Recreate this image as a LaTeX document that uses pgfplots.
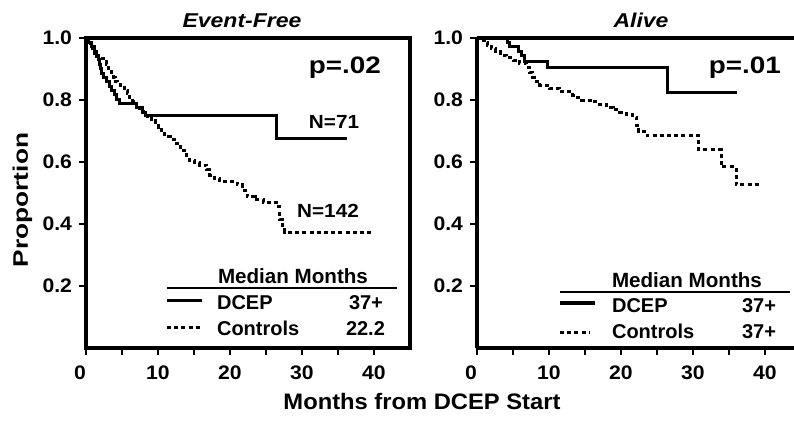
\documentclass[border=0pt]{standalone}
\usepackage{pgfplots}
\pgfplotsset{compat=1.18}
\usepackage{fontspec}
\setmainfont{Liberation Sans}
\newfontfamily\tickf{Liberation Sans}[FakeStretch=1.08]
\newfontfamily\titlef{Liberation Sans}[FakeStretch=1.15]
\newfontfamily\pf{Liberation Sans}[FakeStretch=1.17]
\newfontfamily\xlf{Liberation Sans}[FakeStretch=1.06]
\newfontfamily\ylf{Liberation Sans}[FakeStretch=1.25]
\newfontfamily\nf{Liberation Sans}[FakeStretch=1.09]

\pgfplotsset{
 kmaxis/.style={
  scale only axis,height=155pt,
  ymin=0,ymax=1,xmin=0,
  axis line style={line width=1.8pt},
  ytick={0.2,0.4,0.6,0.8,1.0},yticklabels={0.2,0.4,0.6,0.8,1.0},
  xtick={0,10,20,30,40},xticklabels={\kern-3pt0\kern3pt,10,20,30,40},
  minor xtick={5,15,25,35},
  tick align=outside,xtick pos=left,ytick pos=left,
  major tick length=3.5pt,minor tick length=3.5pt,
  every tick/.append style={black,line width=1.3pt},
  ticklabel style={font=\tickf\bfseries\fontsize{9.8}{11}\selectfont},
  xticklabel style={inner sep=0.5pt,yshift=-4.8pt},
  /pgf/number format/assume math mode=true,
  clip=false,
 },
 dcep/.style={const plot,black,line width=1.5pt,line join=miter},
 ctrl/.style={const plot,black,line width=1.5pt,dash pattern=on 2pt off 1.6pt},
}
\newcommand\rowf{\bfseries\fontsize{10}{12}\selectfont}

\begin{document}
\begin{tikzpicture}
\useasboundingbox (0,0) rectangle (397pt,210pt);

% Event-Free
\begin{axis}[kmaxis,at={(43pt,36pt)},anchor=south west,width=162pt,xmax=45]
\addplot[dcep] coordinates {
 (0,1) (0.4,0.986) (0.8,0.972) (1.2,0.958) (1.5,0.944) (1.8,0.930)
 (1.9,0.915) (2.0,0.901) (2.1,0.887) (2.5,0.873) (2.9,0.859) (3.3,0.845)
 (3.6,0.831) (3.9,0.817) (4.2,0.803) (4.6,0.789) (7.0,0.775) (7.8,0.761)
 (8.3,0.750) (26.5,0.677) (36.2,0.677)};
\addplot[ctrl] coordinates {
 (0,1) (0.3,0.986) (0.6,0.972) (0.9,0.958) (1.2,0.951) (1.5,0.940)
 (2.0,0.933) (2.5,0.923) (2.8,0.916) (3.1,0.902) (3.5,0.888) (3.8,0.874)
 (4.1,0.860) (4.4,0.850) (4.8,0.840) (5.3,0.830) (5.7,0.820) (6.1,0.808)
 (6.5,0.796) (7.0,0.783) (7.5,0.772) (8.0,0.760) (8.5,0.748) (9.1,0.738)
 (9.7,0.728) (10.1,0.712) (10.5,0.696) (10.9,0.681) (11.7,0.672) (12.6,0.660)
 (13.1,0.648) (13.6,0.636) (14.0,0.620) (14.4,0.606) (15.1,0.598) (15.8,0.590)
 (16.8,0.575) (17.2,0.558) (17.9,0.547) (18.6,0.536) (21.0,0.526) (21.7,0.507)
 (22.4,0.488) (23.5,0.478) (24.6,0.468) (26.5,0.455) (26.9,0.414) (27.3,0.394)
 (27.6,0.374) (39.9,0.374)};
\end{axis}

% Alive
\begin{axis}[kmaxis,at={(238.5pt,36pt)},anchor=south west,width=158.4pt,xmax=44,
 axis x line*=box,axis y line*=left]
\addplot[dcep] coordinates {
 (0,1) (4.3,0.986) (4.5,0.972) (5.7,0.958) (6.2,0.944) (6.6,0.925)
 (9.8,0.905) (26.4,0.823) (36.1,0.823)};
\addplot[ctrl] coordinates {
 (0,1) (0.5,0.993) (1.0,0.986) (1.4,0.977) (2.0,0.965) (2.6,0.955)
 (3.2,0.945) (4.1,0.937) (5.0,0.929) (5.9,0.918) (6.9,0.906) (7.3,0.890)
 (7.7,0.874) (8.2,0.861) (8.7,0.848) (10.1,0.838) (11.5,0.826) (13.3,0.816)
 (14.0,0.808) (14.5,0.800) (16.0,0.794) (17.0,0.786) (18.0,0.777) (18.9,0.769)
 (19.8,0.761) (20.7,0.753) (21.6,0.745) (22.1,0.719) (22.5,0.697) (23.7,0.684)
 (30.8,0.639) (33.9,0.584) (36.0,0.526) (39.4,0.526)};
\end{axis}

% titles and labels
\node[anchor=base,font=\titlef\bfseries\itshape\fontsize{10}{12}\selectfont] at (121pt,196.5pt) {Event-Free};
\node[anchor=base,font=\titlef\bfseries\itshape\fontsize{10}{12}\selectfont] at (320.5pt,196.5pt) {Alive};
\node[anchor=base,inner sep=0pt,font=\xlf\bfseries\fontsize{11.2}{13}\selectfont] at (211pt,5.5pt) {Months from DCEP Start};
\node[anchor=base,rotate=90,font=\ylf\bfseries\fontsize{10.5}{12}\selectfont] at (14pt,110pt) {Proportion};

\node[anchor=base east,font=\pf\bfseries\fontsize{11.9}{13}\selectfont] at (194pt,173.5pt) {p=.02};
\node[anchor=base east,font=\pf\bfseries\fontsize{11.9}{13}\selectfont] at (394pt,173.5pt) {p=.01};
\node[anchor=base,font=\nf\bfseries\fontsize{9.5}{11}\selectfont] at (167pt,146pt) {N=71};
\node[anchor=base,font=\nf\bfseries\fontsize{9.5}{11}\selectfont] at (164pt,101.5pt) {N=142};

% left legend
\node[anchor=base,font=\bfseries\fontsize{10.3}{12}\selectfont] at (146.5pt,68.5pt) {Median Months};
\draw[line width=0.75pt] (83.5pt,66pt) -- (198.5pt,66pt);
\draw[line width=1.5pt] (83.5pt,60pt) -- (101pt,60pt);
\draw[line width=1.5pt,dash pattern=on 2pt off 1.6pt] (83.5pt,46.5pt) -- (100pt,46.5pt);
\node[anchor=base west,font=\rowf] at (105pt,55.5pt) {DCEP};
\node[anchor=base east,font=\rowf] at (195pt,55.5pt) {37+};
\node[anchor=base west,font=\rowf] at (105pt,42.5pt) {Controls};
\node[anchor=base east,font=\rowf] at (196pt,42.5pt) {22.2};

% right legend
\node[anchor=base,font=\bfseries\fontsize{10.3}{12}\selectfont] at (343.5pt,66.5pt) {Median Months};
\draw[line width=0.75pt] (280pt,64pt) -- (395pt,64pt);
\draw[line width=1.8pt] (280pt,58.5pt) -- (297.5pt,58.5pt);
\draw[line width=1.5pt,dash pattern=on 2pt off 1.6pt] (280pt,44pt) -- (295pt,44pt);
\node[anchor=base west,font=\rowf] at (302.5pt,54pt) {DCEP};
\node[anchor=base east,font=\rowf] at (391.5pt,54pt) {37+};
\node[anchor=base west,font=\rowf] at (302.5pt,41pt) {Controls};
\node[anchor=base east,font=\rowf] at (391.5pt,41pt) {37+};
\end{tikzpicture}
\end{document}
